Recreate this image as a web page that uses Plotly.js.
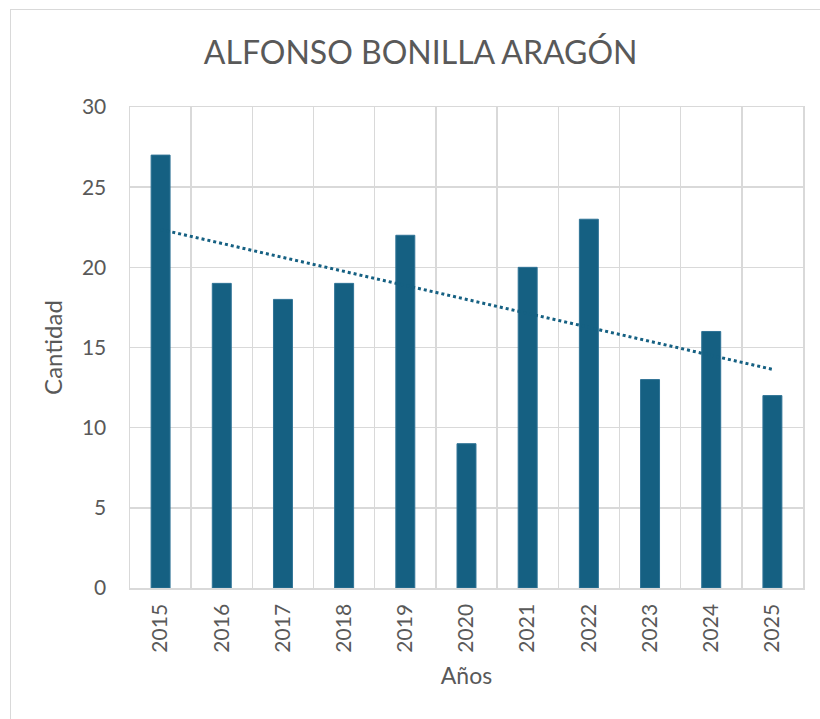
<!DOCTYPE html>
<html>
<head>
<meta charset="utf-8">
<script src="https://cdn.plot.ly/plotly-3.0.1.min.js"></script>
<style>
  html, body { margin: 0; padding: 0; background: #ffffff; }
  #wrap { position: relative; width: 820px; height: 719px; overflow: hidden; }
  #frame { position: absolute; left: 10px; top: 9px; width: 830px; height: 730px;
           border-left: 1px solid #d9d9d9; border-top: 1px solid #d9d9d9; box-sizing: border-box; }
  #chart { position: absolute; left: 0; top: 0; width: 820px; height: 719px; }
</style>
</head>
<body>
<div id="wrap">
  <div id="frame"></div>
  <div id="chart"></div>
</div>
<script>
const years = ['2015','2016','2017','2018','2019','2020','2021','2022','2023','2024','2025'];
const cantidad = [27, 19, 18, 19, 22, 9, 20, 23, 13, 16, 12];
const chartTitle = 'ALFONSO BONILLA ARAGÓN';
const xTitle = 'Años';
const yTitle = 'Cantidad';

// Linear trendline (least squares) like Excel's
const n = cantidad.length;
const xs = cantidad.map((_, i) => i + 1);
const mx = xs.reduce((a, b) => a + b, 0) / n;
const my = cantidad.reduce((a, b) => a + b, 0) / n;
let sxy = 0, sxx = 0;
for (let i = 0; i < n; i++) { sxy += (xs[i] - mx) * (cantidad[i] - my); sxx += (xs[i] - mx) ** 2; }
const slope = sxy / sxx;
const intercept = my - slope * mx;
const trend = xs.map(x => intercept + slope * x);

const barColor = '#156082';
const textColor = '#595959';
const gridColor = '#d9d9d9';
const font = 'Lato, Open Sans, sans-serif';

const data = [
  { type: 'bar', x: years, y: cantidad,
    marker: { color: barColor, line: { color: '#2f7396', width: 1 } },
    hoverinfo: 'skip' },
  { type: 'scatter', mode: 'lines', x: years, y: trend,
    line: { color: barColor, width: 3, dash: 'dot' }, hoverinfo: 'skip' }
];

const layout = {
  width: 820, height: 719,
  paper_bgcolor: 'rgba(0,0,0,0)', plot_bgcolor: '#ffffff',
  margin: { l: 130, r: 17, t: 107, b: 131 },
  showlegend: false,
  bargap: 0.69,
  font: { family: font, color: textColor },
  title: { text: chartTitle, font: { size: 32, color: textColor, family: font },
           x: 0.513, xanchor: 'center', y: 1 - 53 / 719, yanchor: 'middle', yref: 'container' },
  xaxis: {
    type: 'category', tickson: 'boundaries', showgrid: true, gridcolor: gridColor, gridwidth: 1.5,
    showline: true, linecolor: gridColor, linewidth: 1.5, mirror: true,
    ticks: '', tickangle: -90, tickfont: { size: 21, color: textColor },
    ticklabelstandoff: 6,
    title: { text: xTitle, font: { size: 23, color: textColor }, standoff: 16 },
    zeroline: false
  },
  yaxis: {
    range: [0, 30], tickvals: [0, 5, 10, 15, 20, 25, 30],
    showgrid: true, gridcolor: gridColor, gridwidth: 1.5,
    showline: true, linecolor: gridColor, linewidth: 1.5, mirror: true,
    ticks: '', tickfont: { size: 21, color: textColor },
    ticklabelstandoff: 18,
    title: { text: yTitle, font: { size: 24, color: textColor }, standoff: 12 },
    zeroline: false
  }
};

Plotly.newPlot('chart', data, layout, { displayModeBar: false, staticPlot: true });
</script>
</body>
</html>
